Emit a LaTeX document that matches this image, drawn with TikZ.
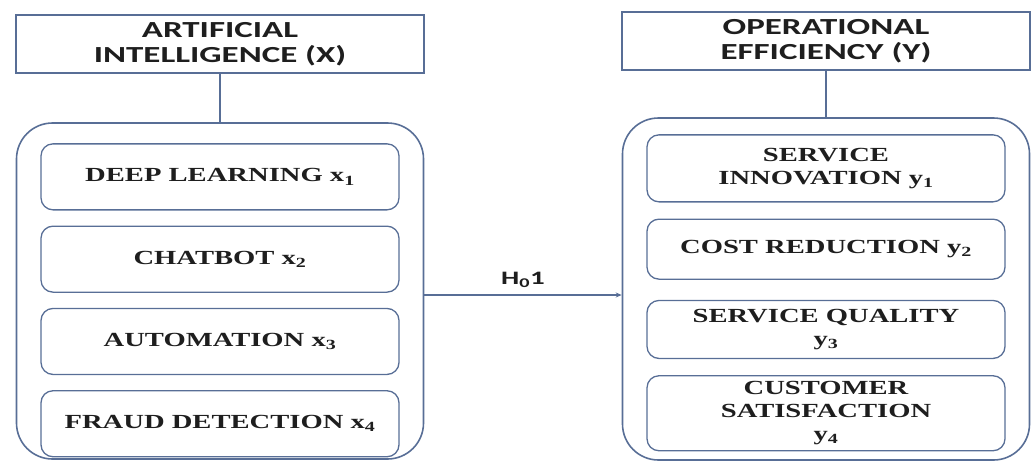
\documentclass[tikz,border=0pt]{standalone}
\usepackage{fontspec}
\setmainfont{Liberation Serif}
\newfontfamily\headfont[FakeStretch=1.52]{Carlito}
\newfontfamily\itemfont[FakeStretch=1.43]{Liberation Serif}
\usetikzlibrary{arrows.meta,positioning}
\definecolor{boxline}{RGB}{88,110,150}
\definecolor{txt}{RGB}{30,30,30}

\begin{document}
\begin{tikzpicture}[x=1pt, y=1pt,
header/.style={rectangle, draw=boxline, line width=1.8pt, minimum width=408pt, minimum height=58pt, align=center, text=txt, inner sep=0pt, font=\headfont\bfseries\fontsize{23}{25}\selectfont},
group/.style={rectangle, rounded corners=36pt, draw=boxline, line width=1.6pt, minimum width=407pt},
item/.style={rectangle, rounded corners=12pt, draw=boxline, line width=1.3pt, minimum width=358pt, minimum height=66pt, align=center, text=txt, inner sep=0pt, font=\itemfont\bfseries\fontsize{20}{23}\selectfont},
link/.style={boxline, line width=1.6pt},
node distance=15pt,
]
\useasboundingbox (0,0) rectangle (1032,-463);

% Variavel X
\node[header] (ai) at (220,-44) {ARTIFICIAL\\INTELLIGENCE (X)};
\node[group, minimum height=336pt] (aigrp) at (220,-291) {};
\node[item, below=21pt of aigrp.north] (dl) {DEEP LEARNING x\textsubscript{1}};
\node[item, below=of dl] (cb) {CHATBOT x\textsubscript{2}};
\node[item, below=of cb] (au) {AUTOMATION x\textsubscript{3}};
\node[item, below=of au] (fd) {FRAUD DETECTION x\textsubscript{4}};

% Variavel Y
\node[header] (oe) at (826,-41) {OPERATIONAL\\EFFICIENCY (Y)};
\node[group, minimum height=342pt] (oegrp) at (826,-289) {};
\node[item, minimum height=67pt, below=17pt of oegrp.north] (si) {SERVICE\\INNOVATION y\textsubscript{1}};
\node[item, minimum height=60pt, below=16pt of si] (cr) {COST REDUCTION y\textsubscript{2}};
\node[item, minimum height=58pt, below=20pt of cr] (sq) {SERVICE QUALITY\\y\textsubscript{3}};
\node[item, minimum height=75pt, below=16pt of sq] (cs) {CUSTOMER\\SATISFACTION\\y\textsubscript{4}};

% Ligacoes
\draw[link] (ai) -- (aigrp);
\draw[link] (oe) -- (oegrp);
\draw[boxline, line width=1.2pt, -{Stealth[length=6pt,width=5pt]}] ([yshift=-4pt]aigrp.east) -- node[above, text=txt, inner sep=7pt, font=\headfont\bfseries\fontsize{19}{22}\selectfont] (hyp) {H\textsubscript{0}1} ([yshift=-4pt]aigrp.east -| oegrp.west);

\end{tikzpicture}
\end{document}
